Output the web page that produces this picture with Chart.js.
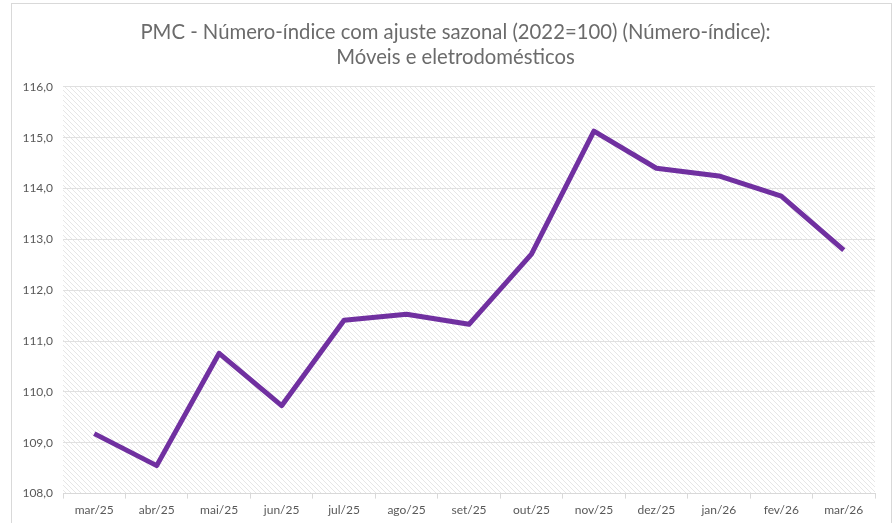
<!DOCTYPE html>
<html lang="pt">
<head>
    <meta charset="UTF-8">
    <title>PMC - Móveis e eletrodomésticos</title>
    <script src="https://cdn.jsdelivr.net/npm/chart.js"></script>
    <style>
        body { margin: 0; background: #fff; }
        .frame {
            position: absolute; left: 11px; top: 3px;
            width: 881px; height: 525px;
            border: 1px solid #d9d9d9; box-sizing: border-box;
        }
        .frame canvas { display: block; }
    </style>
</head>
<body>
    <div class="frame">
        <canvas id="myChart"></canvas>
    </div>

    <script>
        // data
        const months = ['mar/25', 'abr/25', 'mai/25', 'jun/25', 'jul/25', 'ago/25', 'set/25',
                        'out/25', 'nov/25', 'dez/25', 'jan/26', 'fev/26', 'mar/26'];
        const indexValues = [109.18, 108.55, 110.76, 109.73, 111.41, 111.53, 111.33,
                             112.71, 115.13, 114.40, 114.25, 113.85, 112.79];
        const yTicks = [108, 109, 110, 111, 112, 113, 114, 115, 116];

        const FONT = "Lato, 'Noto Sans', sans-serif";

        // diagonal hatch for the plot area
        function makeHatch(ctx) {
            const c = document.createElement('canvas');
            c.width = 5; c.height = 5;
            const p = c.getContext('2d');
            p.fillStyle = '#ffffff';
            p.fillRect(0, 0, 5, 5);
            p.strokeStyle = '#e6e6e6';
            p.lineWidth = 1;
            p.beginPath();
            p.moveTo(-1, -1); p.lineTo(6, 6);
            p.moveTo(-4, 1); p.lineTo(4, 9);
            p.moveTo(1, -4); p.lineTo(9, 4);
            p.stroke();
            return ctx.createPattern(c, 'repeat');
        }

        const plotBackground = {
            id: 'plotBackground',
            afterLayout(chart) {
                // title sits a bit right of the canvas centre in the original
                if (chart.titleBlock) chart.titleBlock.left += 24;
            },
            beforeDraw(chart) {
                const { ctx, chartArea: a } = chart;
                ctx.save();
                ctx.fillStyle = makeHatch(ctx);
                ctx.fillRect(a.left, a.top, a.right - a.left, a.bottom - a.top);
                ctx.restore();
            }
        };

        const ctx = document.getElementById('myChart').getContext('2d');
        const chart = new Chart(ctx, {
            type: 'line',
            data: {
                labels: months,
                datasets: [{
                    label: 'Móveis e eletrodomésticos',
                    data: indexValues,
                    borderColor: '#7030a0',
                    borderWidth: 5,
                    pointRadius: 0,
                    tension: 0,
                    borderJoinStyle: 'round'
                }]
            },
            options: {
                responsive: true,
                maintainAspectRatio: false,
                animation: false,
                layout: { padding: { top: 16, right: 16, bottom: 6, left: 0 } },
                plugins: {
                    legend: { display: false },
                    tooltip: { enabled: false },
                    title: {
                        display: true,
                        text: ['PMC - Número-índice com ajuste sazonal (2022=100) (Número-índice):',
                               'Móveis e eletrodomésticos'],
                        color: '#6b6b6b',
                        font: { family: FONT, size: 20.3, weight: 'normal', lineHeight: 1.23 },
                        padding: { top: 0, bottom: 17 }
                    }
                },
                scales: {
                    x: {
                        offset: true,
                        grid: { offset: true, drawOnChartArea: false, color: '#d9d9d9', tickLength: 5 },
                        border: { display: true, color: '#d9d9d9' },
                        ticks: { color: '#595959', font: { family: FONT, size: 12 }, padding: 4,
                                 maxRotation: 0, autoSkip: false }
                    },
                    y: {
                        min: 108,
                        max: 116,
                        afterBuildTicks(axis) {
                            axis.ticks = yTicks.map(v => ({ value: v }));
                        },
                        afterFit(axis) { axis.width = 51; },
                        grid: { color: '#e0e0e0', drawTicks: false },
                        border: { display: false },
                        ticks: {
                            color: '#595959', font: { family: FONT, size: 12 }, padding: 10,
                            callback: v => v.toFixed(1).replace('.', ',')
                        }
                    }
                }
            },
            plugins: [plotBackground]
        });
    </script>
</body>
</html>
